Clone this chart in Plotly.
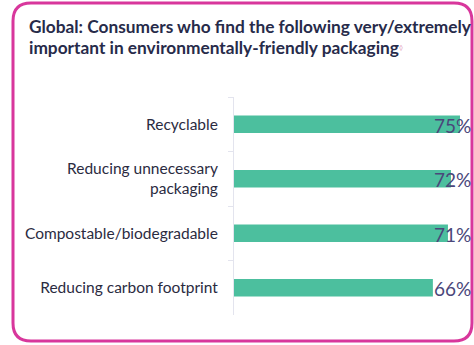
import plotly.graph_objects as go

categories = ["Recyclable", "Reducing unnecessary<br>packaging", "Compostable/biodegradable", "Reducing carbon footprint"]
values = [75, 72, 71, 66]
value_labels = ["75%", "72%", "71%", "66%"]
title_lines = ["Global: Consumers who find the following very/extremely",
               "important in environmentally-friendly packaging"]

W, H = 474, 345
L, R, T, B = 234, 0, 97, 30
pw, ph = W - L - R, H - T - B

def px(X):
    return (X - L) / pw

def py(Y):
    return (H - B - Y) / ph

fig = go.Figure()
fig.add_trace(go.Bar(
    x=values, y=categories, orientation="h",
    marker=dict(color="#4cbf9e", line=dict(width=0)),
    width=0.32, hoverinfo="skip",
))

for c, lab in zip(categories, value_labels):
    fig.add_annotation(x=px(473), xref="paper", y=c, yref="y", text=lab,
                       xanchor="right", yanchor="middle", showarrow=False, yshift=-1,
                       font=dict(family="Lato", size=19, color="#4a477a"))

# title lines
title_font = dict(family="Lato", size=17.3, color="#272b4a")
fig.add_annotation(x=px(27), y=py(27), xref="paper", yref="paper",
                   text=f"<b>{title_lines[0]}</b>", xanchor="left", yanchor="middle",
                   showarrow=False, font=title_font)
fig.add_annotation(x=px(27), y=py(47), xref="paper", yref="paper",
                   text=f"<b>{title_lines[1]}</b><span style='color:#e4a6c2;font-size:10px'><sup>◊</sup></span>",
                   xanchor="left", yanchor="middle", showarrow=False, font=title_font)

# rounded pink border
x0, x1, y0, y1, r = 13, 472, 3, 341, 18
path = (f"M {px(x0)},{py(y0 + r)} Q {px(x0)},{py(y0)} {px(x0 + r)},{py(y0)} "
        f"L {px(x1 - r)},{py(y0)} Q {px(x1)},{py(y0)} {px(x1)},{py(y0 + r)} "
        f"L {px(x1)},{py(y1 - r)} Q {px(x1)},{py(y1)} {px(x1 - r)},{py(y1)} "
        f"L {px(x0 + r)},{py(y1)} Q {px(x0)},{py(y1)} {px(x0)},{py(y1 - r)} Z")
fig.add_shape(type="path", path=path, xref="paper", yref="paper",
              line=dict(color="#d8379c", width=3), layer="above")

fig.update_layout(
    width=W, height=H,
    margin=dict(l=L, r=R, t=T, b=B),
    paper_bgcolor="white", plot_bgcolor="white",
    showlegend=False,
    xaxis=dict(range=[0, pw / ((460 - 234) / 75)], visible=False, fixedrange=True),
    yaxis=dict(
        autorange="reversed", showline=True, linecolor="#e3e4ee", linewidth=1,
        ticks="outside", tickson="boundaries", ticklen=5, tickcolor="#e3e4ee",
        ticklabelstandoff=12, showgrid=False,
        tickfont=dict(family="Lato", size=15.5, color="#2b2b3f"),
    ),
)

fig.write_html("out.html")
